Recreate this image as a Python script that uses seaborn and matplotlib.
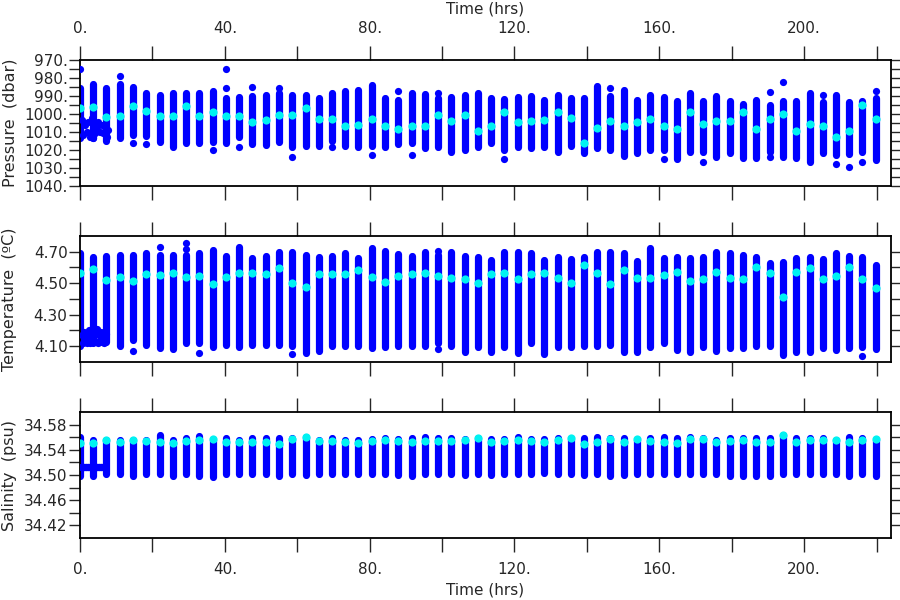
import matplotlib
matplotlib.use("Agg")
import matplotlib.pyplot as plt
from matplotlib.ticker import FixedLocator, FuncFormatter
import seaborn as sns
import pandas as pd

# profile times (hrs)
prof_time = [0.0, 3.7, 7.3, 11.0, 14.7, 18.3, 22.0, 25.6, 29.3, 33.0, 36.6, 40.3, 44.0, 47.6, 51.3,
             54.9, 58.6, 62.3, 65.9, 69.6, 73.3, 76.9, 80.6, 84.2, 87.9, 91.6, 95.2, 98.9, 102.6,
             106.2, 109.9, 113.6, 117.2, 120.9, 124.5, 128.2, 131.9, 135.5, 139.2, 142.9, 146.5,
             150.2, 153.8, 157.5, 161.2, 164.8, 168.5, 172.2, 175.8, 179.5, 183.2, 186.8, 190.5,
             194.1, 197.8, 201.5, 205.1, 208.8, 212.5, 216.1, 219.8]

# pressure (dbar): column top / bottom / highlighted value
pres_top = [985.5, 983.2, 985.5, 983.6, 985.1, 988.3, 989.2, 988.3, 988.6, 988.3, 987.3, 991.1,
            990.5, 990.1, 989.2, 988.3, 989.2, 989.2, 991.1, 988.3, 987.0, 986.8, 984.0, 991.1,
            992.0, 988.3, 988.8, 991.1, 990.7, 989.2, 988.3, 991.1, 991.5, 990.5, 989.8, 992.0,
            989.2, 990.9, 991.1, 984.5, 990.1, 986.4, 992.0, 989.2, 990.5, 992.9, 988.3, 992.9,
            990.1, 992.9, 994.4, 992.4, 994.8, 992.9, 992.9, 988.3, 993.3, 989.6, 993.3, 992.7,
            991.1]
pres_bot = [1013.5, 1013.5, 1014.8, 1013.5, 1011.6, 1012.2, 1015.7, 1018.5, 1016.0, 1016.0,
            1015.4, 1016.0, 1012.6, 1016.6, 1017.2, 1015.4, 1018.1, 1017.8, 1017.8, 1015.0,
            1017.8, 1018.5, 1018.0, 1018.1, 1016.6, 1016.3, 1019.1, 1018.1, 1020.9, 1020.0,
            1018.1, 1016.3, 1020.0, 1018.5, 1019.1, 1018.1, 1020.9, 1017.8, 1021.9, 1019.1,
            1020.0, 1023.4, 1021.9, 1020.0, 1020.0, 1025.2, 1020.9, 1020.9, 1023.7, 1021.9,
            1024.7, 1024.7, 1020.9, 1023.7, 1024.7, 1026.5, 1021.9, 1023.0, 1022.3, 1021.0,
            1025.6]
pres_mid = [996.7, 996.3, 1001.9, 1001.3, 995.4, 998.5, 1001.0, 1001.3, 995.7, 1001.0, 998.9,
            1001.3, 1001.0, 1004.7, 1003.2, 1000.4, 1000.4, 996.7, 1002.8, 1002.6, 1006.6,
            1006.0, 1002.8, 1006.4, 1008.2, 1006.4, 1006.6, 1000.8, 1003.8, 1000.4, 1009.4,
            1006.6, 999.1, 1004.5, 1003.8, 1003.6, 999.1, 1002.3, 1016.3, 1007.9, 1003.8,
            1006.4, 1004.7, 1002.6, 1006.4, 1008.4, 999.1, 1005.4, 1004.1, 1004.1, 999.1,
            1008.4, 1002.8, 999.8, 1009.2, 1005.4, 1006.9, 1012.5, 1009.7, 995.2, 1002.8]
pres_out_t = [0.0, 11.0, 14.7, 18.3, 36.6, 40.3, 40.3, 44.0, 47.6, 54.9, 58.6, 69.6, 80.6,
              87.9, 91.6, 98.9, 117.2, 146.5, 161.2, 172.2, 190.5, 190.5, 194.1, 205.1, 208.8,
              212.5, 216.1, 219.8]
pres_out_v = [975.2, 978.9, 1015.9, 1016.6, 1020.0, 974.8, 985.5, 1018.1, 984.9, 985.5, 1024.1,
              1018.5, 1022.8, 987.3, 1022.8, 988.3, 1025.0, 985.5, 1025.2, 1026.5, 987.7, 1024.1,
              982.1, 989.6, 1027.5, 1029.7, 1026.5, 987.0]
pres_blob_t = [0.5, 1.4, 2.3, 1.8, 3.2, 4.1, 5.1, 4.6, 5.5, 6.0, 6.9, 7.8, 3.7, 0.9, 2.8, 7.4,
               6.4, 4.1]
pres_blob_v = [1003.2, 1006.0, 1004.2, 1009.8, 1002.3, 1005.0, 1004.2, 1007.0, 1009.8, 1006.0,
               1007.0, 1008.8, 1013.4, 1011.6, 1012.6, 1012.6, 1010.6, 1010.6]

# temperature (degC)
temp_top = [4.690, 4.669, 4.670, 4.680, 4.679, 4.694, 4.679, 4.679, 4.680, 4.694, 4.711, 4.673,
            4.732, 4.658, 4.673, 4.700, 4.700, 4.679, 4.665, 4.675, 4.690, 4.658, 4.726, 4.705,
            4.686, 4.673, 4.700, 4.680, 4.700, 4.673, 4.669, 4.648, 4.700, 4.700, 4.690, 4.648,
            4.669, 4.652, 4.669, 4.700, 4.700, 4.690, 4.643, 4.726, 4.662, 4.669, 4.658, 4.665,
            4.700, 4.690, 4.679, 4.669, 4.631, 4.637, 4.658, 4.669, 4.652, 4.694, 4.675, 4.669,
            4.616]
temp_bot = [4.100, 4.120, 4.130, 4.102, 4.140, 4.108, 4.087, 4.081, 4.119, 4.119, 4.093, 4.108,
            4.097, 4.108, 4.108, 4.108, 4.100, 4.059, 4.072, 4.104, 4.104, 4.104, 4.087, 4.097,
            4.101, 4.101, 4.101, 4.119, 4.101, 4.066, 4.097, 4.066, 4.097, 4.059, 4.119, 4.051,
            4.093, 4.093, 4.101, 4.101, 4.108, 4.066, 4.066, 4.097, 4.118, 4.076, 4.066, 4.097,
            4.072, 4.087, 4.087, 4.101, 4.101, 4.044, 4.066, 4.066, 4.087, 4.076, 4.087, 4.097,
            4.080]
temp_mid = [4.563, 4.588, 4.521, 4.540, 4.516, 4.559, 4.552, 4.567, 4.538, 4.546, 4.493, 4.542,
            4.563, 4.563, 4.557, 4.595, 4.504, 4.478, 4.557, 4.559, 4.559, 4.584, 4.542, 4.510,
            4.546, 4.559, 4.567, 4.548, 4.531, 4.527, 4.504, 4.557, 4.567, 4.527, 4.557, 4.567,
            4.531, 4.499, 4.616, 4.563, 4.495, 4.584, 4.531, 4.531, 4.552, 4.574, 4.514, 4.525,
            4.574, 4.535, 4.525, 4.605, 4.563, 4.415, 4.574, 4.599, 4.525, 4.546, 4.601, 4.525,
            4.468]
temp_out_t = [14.7, 22.0, 29.3, 29.3, 33.0, 58.6, 98.9, 98.9, 216.1]
temp_out_v = [4.072, 4.732, 4.758, 4.715, 4.059, 4.051, 4.707, 4.083, 4.040]
temp_blob_t = [0.5, 1.0, 1.5, 2.0, 2.5, 3.0, 4.2, 4.7, 5.2, 5.7, 6.2, 6.7, 7.2,
               0.7, 1.2, 1.8, 2.3, 2.8, 3.4, 4.4, 5.0, 5.5, 6.0, 6.5, 7.0]
temp_blob_v = [4.17, 4.19, 4.16, 4.18, 4.20, 4.17, 4.19, 4.21, 4.17, 4.19, 4.18, 4.17, 4.18,
               4.12, 4.13, 4.12, 4.14, 4.12, 4.13, 4.13, 4.12, 4.14, 4.13, 4.12, 4.14]

# salinity (psu)
sal_top = [34.561, 34.556, 34.556, 34.555, 34.556, 34.556, 34.563, 34.556, 34.5595, 34.5616,
           34.555, 34.558, 34.556, 34.559, 34.559, 34.558, 34.559, 34.560, 34.555, 34.559,
           34.556, 34.555, 34.557, 34.559, 34.557, 34.558, 34.561, 34.558, 34.558, 34.557,
           34.5595, 34.557, 34.557, 34.561, 34.557, 34.557, 34.5595, 34.557, 34.558, 34.561,
           34.559, 34.558, 34.556, 34.5595, 34.561, 34.5595, 34.561, 34.5595, 34.556, 34.5595,
           34.559, 34.559, 34.558, 34.563, 34.558, 34.5595, 34.5595, 34.556, 34.561, 34.5595,
           34.556]
sal_bot = [34.499, 34.499, 34.501, 34.501, 34.499, 34.501, 34.501, 34.498, 34.501, 34.499,
           34.4965, 34.501, 34.501, 34.501, 34.501, 34.499, 34.501, 34.500, 34.502, 34.502,
           34.502, 34.502, 34.501, 34.501, 34.500, 34.499, 34.502, 34.502, 34.501, 34.500,
           34.502, 34.500, 34.502, 34.502, 34.502, 34.503, 34.502, 34.502, 34.500, 34.502,
           34.499, 34.500, 34.501, 34.502, 34.502, 34.502, 34.502, 34.502, 34.501, 34.499,
           34.499, 34.499, 34.499, 34.501, 34.501, 34.501, 34.501, 34.501, 34.499, 34.501,
           34.499]
sal_mid = [34.5515, 34.5515, 34.5552, 34.5525, 34.5563, 34.5536, 34.5525, 34.5515, 34.5541,
           34.5552, 34.5579, 34.5525, 34.5525, 34.5525, 34.5525, 34.5499, 34.5579, 34.5605,
           34.5536, 34.5536, 34.5525, 34.5515, 34.5540, 34.5563, 34.5536, 34.5525, 34.5536,
           34.5536, 34.5541, 34.5563, 34.5580, 34.5525, 34.5536, 34.5552, 34.5536, 34.5525,
           34.5563, 34.5580, 34.5499, 34.5525, 34.5568, 34.5525, 34.5568, 34.5540, 34.5525,
           34.5515, 34.5568, 34.5568, 34.5525, 34.5541, 34.5563, 34.5525, 34.5525, 34.5632,
           34.5525, 34.5552, 34.5552, 34.5552, 34.5525, 34.5552, 34.5579]
sal_blob_t = [0.4, 1.0, 1.6, 2.2, 2.8, 3.4, 4.0, 4.6, 5.2, 5.8, 6.4, 7.0]
sal_blob_v = [34.513, 34.512, 34.512, 34.513, 34.512, 34.512, 34.512, 34.513, 34.512, 34.512,
              34.513, 34.512]

BLUE = "#0000ff"
CYAN = "#00f2f2"
LW_COL = 5.2   # column width in points (same as dot diameter)
DOT = 27       # scatter marker area

sns.set_style("ticks")
plt.rcParams["font.family"] = ["DejaVu Sans"]
plt.rcParams["font.size"] = 11

fig = plt.figure(figsize=(9, 6), dpi=100)
boxes = [[0.0889, 0.69, 0.9011, 0.21],
         [0.0889, 0.3967, 0.9011, 0.21],
         [0.0889, 0.1033, 0.9011, 0.21]]

panels = [
    dict(top=pres_top, bot=pres_bot, mid=pres_mid, ot=pres_out_t, ov=pres_out_v,
         bt=pres_blob_t, bv=pres_blob_v, label="Pressure  (dbar)", ylim=(1040, 970),
         major=[970, 980, 990, 1000, 1010, 1020, 1030, 1040],
         minor=[975, 985, 995, 1005, 1015, 1025, 1035], fmt=lambda v, p: f"{v:.0f}."),
    dict(top=temp_top, bot=temp_bot, mid=temp_mid, ot=temp_out_t, ov=temp_out_v,
         bt=temp_blob_t, bv=temp_blob_v, label="Temperature  (ºC)", ylim=(4.0, 4.8),
         major=[4.1, 4.3, 4.5, 4.7], minor=[4.2, 4.4, 4.6], fmt=lambda v, p: f"{v:.2f}"),
    dict(top=sal_top, bot=sal_bot, mid=sal_mid, ot=[], ov=[],
         bt=sal_blob_t, bv=sal_blob_v, label="Salinity  (psu)", ylim=(34.40, 34.60),
         major=[34.42, 34.46, 34.50, 34.54, 34.58], minor=[34.44, 34.48, 34.52, 34.56],
         fmt=lambda v, p: f"{v:.2f}"),
]

for i, (box, pnl) in enumerate(zip(boxes, panels)):
    ax = fig.add_axes(box)
    df = pd.DataFrame({"time": prof_time, "lo": pnl["bot"], "hi": pnl["top"], "mid": pnl["mid"]})

    # profile columns
    lc = ax.vlines(df["time"], df["lo"], df["hi"], colors=BLUE, linewidth=LW_COL, zorder=2)
    lc.set_capstyle("round")

    # isolated blue samples
    extra = pd.DataFrame({"time": list(pnl["ot"]) + list(pnl["bt"]),
                          "val": list(pnl["ov"]) + list(pnl["bv"])})
    sns.scatterplot(data=extra, x="time", y="val", color=BLUE, s=DOT, linewidth=0,
                    ax=ax, zorder=3)
    if i == 2:
        ax.hlines(pnl["bv"][0], pnl["bt"][0], pnl["bt"][-1], colors=BLUE,
                  linewidth=LW_COL, zorder=2)

    # highlighted value per profile
    sns.scatterplot(data=df, x="time", y="mid", color=CYAN, s=DOT + 8, linewidth=0,
                    ax=ax, zorder=4)

    ax.set_xlim(0, 224)
    ax.set_ylim(*pnl["ylim"])
    ax.yaxis.set_major_locator(FixedLocator(pnl["major"]))
    ax.yaxis.set_minor_locator(FixedLocator(pnl["minor"]))
    ax.yaxis.set_major_formatter(FuncFormatter(pnl["fmt"]))
    ax.xaxis.set_major_locator(FixedLocator([0, 40, 80, 120, 160, 200]))
    ax.xaxis.set_minor_locator(FixedLocator([20, 60, 100, 140, 180, 220]))
    ax.xaxis.set_major_formatter(FuncFormatter(lambda v, p: f"{v:.0f}."))

    ax.tick_params(axis="y", which="both", direction="out", length=8, width=1.0,
                   left=True, right=True, labelleft=True, labelright=False, pad=1,
                   labelsize=11)
    ax.tick_params(axis="x", which="both", direction="out", length=10, width=1.0,
                   top=True, bottom=True, labeltop=(i == 0), labelbottom=(i == 2),
                   pad=7, labelsize=11)
    for sp in ax.spines.values():
        sp.set_visible(True)
        sp.set_linewidth(1.3)
        sp.set_color("black")

    ax.set_ylabel(pnl["label"], fontsize=11.5)
    ax.yaxis.set_label_coords(-0.0775, 0.5)
    if i == 0:
        ax.set_xlabel("Time (hrs)", fontsize=11, labelpad=6)
        ax.xaxis.set_label_position("top")
    elif i == 2:
        ax.set_xlabel("Time (hrs)", fontsize=11, labelpad=4)
    else:
        ax.set_xlabel("")

fig.savefig("out.png", dpi=100)
